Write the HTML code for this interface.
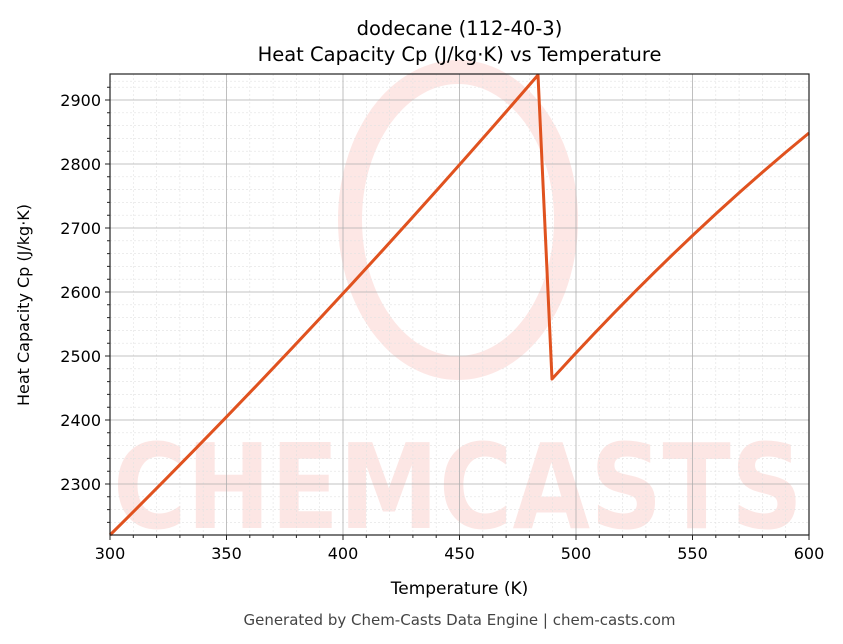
<!DOCTYPE html>
<html><head><meta charset="utf-8"><style>
html,body{margin:0;padding:0;background:#fff;}
svg{display:block;font-family:"DejaVu Sans","Liberation Sans",sans-serif;}
</style></head><body>
<svg width="843" height="644" viewBox="0 0 843 644" xmlns="http://www.w3.org/2000/svg">
<rect width="843" height="644" fill="#fff"/>
<!-- watermark -->
<g opacity="0.16" fill="#f26b5b">
<ellipse cx="458" cy="220" rx="108" ry="148" fill="none" stroke="#f26b5b" stroke-width="24"/>
<text x="458" y="528" font-size="118" font-weight="bold" text-anchor="middle" textLength="690" lengthAdjust="spacingAndGlyphs">CHEMCASTS</text>
</g>
<!-- minor grid -->
<g stroke="#e2e2e2" stroke-width="0.6" stroke-dasharray="2,2">
<path d="M133.3 74V535M156.6 74V535M179.9 74V535M203.2 74V535M249.8 74V535M273.1 74V535M296.4 74V535M319.7 74V535M366.3 74V535M389.6 74V535M412.9 74V535M436.2 74V535M482.8 74V535M506.1 74V535M529.4 74V535M552.7 74V535M599.3 74V535M622.6 74V535M645.9 74V535M669.2 74V535M715.8 74V535M739.1 74V535M762.4 74V535M785.7 74V535"/>
<path d="M110 81.2H809M110 87.2H809M110 112.8H809M110 125.6H809M110 138.4H809M110 151.2H809M110 176.8H809M110 189.6H809M110 202.4H809M110 215.2H809M110 240.8H809M110 253.6H809M110 266.4H809M110 279.2H809M110 304.8H809M110 317.6H809M110 330.4H809M110 343.2H809M110 368.8H809M110 381.6H809M110 394.4H809M110 407.2H809M110 432.8H809M110 445.6H809M110 458.4H809M110 471.2H809M110 496.8H809M110 509.6H809M110 522.4H809"/>
</g>
<!-- major grid -->
<g stroke="#b0b0b0" stroke-width="0.8">
<path d="M226.5 74V535M343 74V535M459.5 74V535M576 74V535M692.5 74V535"/>
<path d="M110 100H809M110 164H809M110 228H809M110 292H809M110 356H809M110 420H809M110 484H809"/>
</g>
<!-- data -->
<path fill="none" stroke="#e0521f" stroke-width="3" stroke-linejoin="round" d="M110 535Q324 323 538 75L552 379Q680.5 238 809 133"/>
<!-- axes -->
<rect x="110" y="74" width="699" height="461" fill="none" stroke="#222" stroke-width="1.2"/>
<g stroke="#222" stroke-width="1">
<path d="M110 535v5M226.5 535v5M343 535v5M459.5 535v5M576 535v5M692.5 535v5M809 535v5"/>
<path d="M110 100h-5M110 164h-5M110 228h-5M110 292h-5M110 356h-5M110 420h-5M110 484h-5"/>
<path d="M133.3 535v3M156.6 535v3M179.9 535v3M203.2 535v3M249.8 535v3M273.1 535v3M296.4 535v3M319.7 535v3M366.3 535v3M389.6 535v3M412.9 535v3M436.2 535v3M482.8 535v3M506.1 535v3M529.4 535v3M552.7 535v3M599.3 535v3M622.6 535v3M645.9 535v3M669.2 535v3M715.8 535v3M739.1 535v3M762.4 535v3M785.7 535v3"/>
<path d="M110 87.2h-3M110 112.8h-3M110 125.6h-3M110 138.4h-3M110 151.2h-3M110 176.8h-3M110 189.6h-3M110 202.4h-3M110 215.2h-3M110 240.8h-3M110 253.6h-3M110 266.4h-3M110 279.2h-3M110 304.8h-3M110 317.6h-3M110 330.4h-3M110 343.2h-3M110 368.8h-3M110 381.6h-3M110 394.4h-3M110 407.2h-3M110 432.8h-3M110 445.6h-3M110 458.4h-3M110 471.2h-3M110 496.8h-3M110 509.6h-3M110 522.4h-3"/>
</g>
<g font-size="16" fill="#000" text-anchor="middle">
<text x="110" y="559">300</text><text x="226.5" y="559">350</text><text x="343" y="559">400</text><text x="459.5" y="559">450</text><text x="576" y="559">500</text><text x="692.5" y="559">550</text><text x="809" y="559">600</text>
</g>
<g font-size="16" fill="#000" text-anchor="end">
<text x="101" y="106">2900</text><text x="101" y="170">2800</text><text x="101" y="234">2700</text><text x="101" y="298">2600</text><text x="101" y="362">2500</text><text x="101" y="426">2400</text><text x="101" y="490">2300</text>
</g>
<text x="459.5" y="594" font-size="17" text-anchor="middle">Temperature (K)</text>
<text transform="translate(29,305) rotate(-90)" font-size="16" text-anchor="middle">Heat Capacity Cp (J/kg·K)</text>
<text x="459.5" y="35" font-size="19.5" text-anchor="middle">dodecane (112-40-3)</text>
<text x="459.5" y="61" font-size="19.5" text-anchor="middle">Heat Capacity Cp (J/kg·K) vs Temperature</text>
<text x="459.5" y="625" font-size="15" fill="#444" text-anchor="middle">Generated by Chem-Casts Data Engine | chem-casts.com</text>
</svg>
</body></html>
